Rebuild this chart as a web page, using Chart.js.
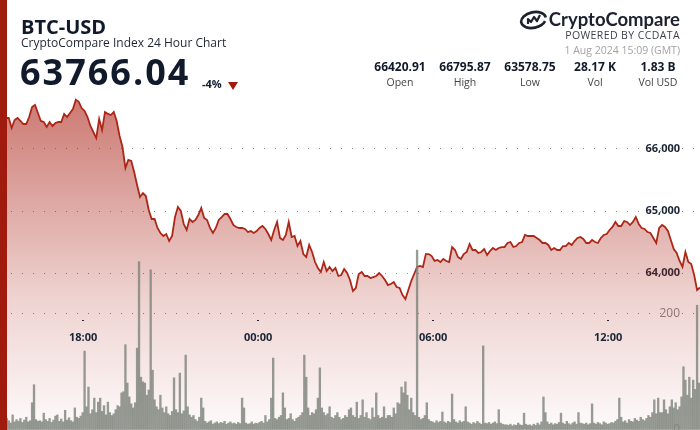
<!DOCTYPE html>
<html>
<head>
<meta charset="utf-8">
<script src="https://cdn.jsdelivr.net/npm/chart.js@4.4.1/dist/chart.umd.min.js"></script>
<style>
  html, body { margin: 0; padding: 0; background: #fff; }
  #wrap { position: relative; width: 700px; height: 430px; overflow: hidden; font-family: "Open Sans", sans-serif; color: #111a2b; }
  #wrap canvas { position: absolute; left: 0; top: 0; }
  .abs { position: absolute; line-height: 1; white-space: nowrap; }
  #redbar { position: absolute; left: 0; top: 0; width: 7px; height: 430px; background: #a11a0e; }
  .stat { position: absolute; width: 64px; text-align: center; line-height: 1; }
</style>
</head>
<body>
<div id="wrap">
  <canvas id="chart" width="700" height="430"></canvas>
  <div id="redbar"></div>
  <div class="abs" id="pair" style="left:21px;top:16.5px;font-size:20px;font-weight:700;"></div>
  <div class="abs" id="subtitle" style="left:21px;top:37px;font-size:12px;color:#1f2633;"></div>
  <div class="abs" id="last" style="left:20px;top:53.5px;font-size:36px;font-weight:700;letter-spacing:2px;"></div>
  <div class="abs" id="change" style="left:202px;top:78px;font-size:11px;font-weight:700;"></div>
  <div class="abs" style="left:228px;top:82px;width:0;height:0;border-left:5.5px solid transparent;border-right:5.5px solid transparent;border-top:8px solid #a11a0e;"></div>

  <svg class="abs" style="left:519px;top:10px;" width="30" height="20" viewBox="0 0 30 20">
    <ellipse cx="14.5" cy="10" rx="12.5" ry="7.8" transform="rotate(-12 14.5 10)" fill="none" stroke="#1c2130" stroke-width="2.6" stroke-dasharray="62 10" stroke-dashoffset="-4"/>
    <path d="M9 14 L9 9 L12 12 L15 7 L18 11 L21 5" fill="none" stroke="#1c2130" stroke-width="2.2" stroke-linejoin="round"/>
  </svg>
  <div class="abs" id="brand" style="right:20px;top:10.3px;font-family:Lato, sans-serif;font-size:18.5px;font-weight:700;color:#1c2130;"></div>
  <div class="abs" id="powered" style="right:20px;top:29.7px;font-size:10.5px;font-weight:500;letter-spacing:0.4px;color:#3a3f4a;"></div>
  <div class="abs" id="stamp" style="right:20px;top:45.2px;font-size:10.5px;color:#a3a3a3;"></div>
</div>
<script>
// header values
const pairName = "BTC-USD";
const subtitleText = "CryptoCompare Index 24 Hour Chart";
const lastPrice = "63766.04";
const changeText = "-4%";
const stampText = "1 Aug 2024 15:09 (GMT)";
const statValues = ["66420.91", "66795.87", "63578.75", "28.17 K", "1.83 B"];
const statLabels = ["Open", "High", "Low", "Vol", "Vol USD"];

// time axis: minutes since 31 Jul 15:09
const timeLabels = ["18:00", "00:00", "06:00", "12:00"];
const timeTicks = [171, 531, 891, 1251];
const priceTicks = [64000, 65000, 66000];
const volumeTicks = [0, 200];

// price every 6 minutes
const priceValues = [
  66421,66480,66500,66500,66339,66468,66500,66452,66403,66403,
  66516,66677,66710,66581,66452,66435,66355,66435,66371,66419,
  66435,66435,66565,66516,66581,66645,66796,66760,66661,66613,
  66516,66371,66274,66177,66484,66306,66597,66565,66548,66597,
  66452,66210,66032,65694,65823,65806,65629,65419,65226,65290,
  65242,65016,64871,64871,64726,64645,64597,64629,64516,64597,
  64903,65065,65000,64790,64694,64871,64823,64855,64935,65048,
  64887,64855,64726,64645,64726,64855,64903,64952,64952,64871,
  64774,64742,64726,64726,64710,64661,64677,64645,64677,64726,
  64758,64710,64629,64532,64694,64823,64565,64532,64613,64823,
  64581,64597,64435,64516,64306,64258,64452,64339,64177,64081,
  64016,64177,64032,64097,64032,64081,63952,63968,64065,64000,
  63887,63710,63758,63984,64016,63952,63952,63919,63935,63952,
  64000,63952,63887,63806,63823,63855,63774,63758,63645,63579,
  63726,63871,63984,64097,64113,64097,64306,64306,64274,64194,
  64210,64177,64226,64194,64177,64419,64371,64258,64226,64306,
  64339,64468,64371,64371,64323,64339,64387,64290,64355,64403,
  64371,64403,64419,64419,64484,64500,64419,64435,64484,64500,
  64613,64597,64597,64597,64565,64532,64484,64484,64452,64371,
  64403,64371,64371,64435,64435,64484,64452,64516,64565,64581,
  64548,64484,64484,64532,64500,64484,64565,64613,64629,64694,
  64742,64823,64758,64758,64839,64823,64774,64823,64903,64790,
  64726,64710,64661,64645,64565,64484,64726,64774,64742,64677,
  64532,64387,64323,64194,64097,64339,64177,64145,63968,63726,
  63766
];

// volume every 4 minutes
const volumeValues = [
  15,18,14,20,16,12,26,14,18,15,20,13,17,22,14,16,47,78,18,15,
  16,14,29,18,15,20,13,17,24,26,15,19,14,34,17,21,16,14,38,22,
  20,24,30,136,40,74,28,35,55,30,48,55,32,42,26,48,30,25,28,35,
  42,40,64,66,147,81,57,45,38,47,141,290,91,83,81,60,69,276,103,52,
  40,35,60,38,30,40,28,25,32,90,35,30,98,28,33,129,40,26,22,25,
  18,15,22,55,38,15,12,14,16,10,12,14,11,13,12,15,10,12,14,11,
  12,10,13,11,55,38,12,10,11,14,10,12,11,13,15,12,25,14,18,55,
  124,20,18,22,25,64,38,18,20,28,18,15,20,22,25,30,129,91,38,25,
  30,28,35,55,107,38,30,25,28,40,22,20,25,30,22,18,20,25,22,35,
  38,25,22,48,20,25,52,22,30,20,18,38,22,64,25,20,22,40,20,25,
  25,22,38,28,47,45,74,64,83,60,35,55,30,25,310,22,18,20,25,47,
  18,15,14,12,16,13,15,31,14,12,15,13,62,18,14,12,16,13,15,40,
  14,12,10,13,11,15,12,10,145,12,11,13,10,12,14,11,35,12,10,9,
  9,8,10,7,9,8,12,9,8,29,10,8,9,7,10,8,12,9,14,57,
  30,14,10,12,9,11,10,13,29,12,10,15,11,9,12,14,10,30,12,11,
  10,12,9,11,45,12,10,13,11,9,14,12,10,11,13,12,15,18,55,22,
  14,16,12,18,15,14,20,17,15,22,18,16,20,25,22,30,52,28,55,30,
  30,52,35,28,40,52,38,47,35,40,57,109,86,60,91,55,86,70,215,81
];

// header text
document.getElementById('pair').textContent = pairName;
document.getElementById('subtitle').textContent = subtitleText;
document.getElementById('last').textContent = lastPrice;
document.getElementById('change').textContent = changeText;
document.getElementById('brand').textContent = "CryptoCompare";
document.getElementById('powered').textContent = "POWERED BY CCDATA";
document.getElementById('stamp').textContent = stampText;
const statCenters = [400, 465, 530, 595, 658];
const wrap = document.getElementById('wrap');
statValues.forEach((v, i) => {
  let a = document.createElement('div');
  a.className = 'stat';
  a.style.left = (statCenters[i] - 32) + 'px';
  a.style.top = '60.8px';
  a.style.fontSize = '12px';
  a.style.fontWeight = '700';
  a.textContent = v;
  wrap.appendChild(a);
  let b = document.createElement('div');
  b.className = 'stat';
  b.style.left = (statCenters[i] - 32) + 'px';
  b.style.top = '76.7px';
  b.style.fontSize = '10.5px';
  b.style.color = '#444';
  b.textContent = statLabels[i];
  wrap.appendChild(b);
});

// x labels sit inside the plot, under the 200 volume line
const xLabels = {
  id: 'xLabels',
  afterDraw(chart) {
    const ctx = chart.ctx;
    const x = chart.scales.x;
    ctx.save();
    ctx.font = 'bold 11px "Open Sans"';
    ctx.fillStyle = '#1b2535';
    ctx.textAlign = 'center';
    ctx.textBaseline = 'middle';
    timeTicks.forEach((m, i) => {
      const px = x.getPixelForValue(m);
      ctx.fillRect(Math.round(px) - 1, 320, 2, 1);
      ctx.fillText(timeLabels[i], px, 337.5);
    });
    ctx.restore();
  }
};

// axes take no room, everything is drawn over the plot
const noSpace = (s) => {
  if (s.isHorizontal()) s.height = 0; else s.width = 0;
};

let ctx = document.getElementById('chart').getContext('2d');
let chart = new Chart(ctx, {
  data: {
    datasets: [{
      type: 'bar',
      label: 'Volume',
      data: volumeValues.map((v, i) => ({ x: i * 4 + 2, y: v })),
      yAxisID: 'y1',
      backgroundColor: 'rgba(125,131,123,0.8)',
      barThickness: 1.7,
      order: 0
    }, {
      type: 'line',
      label: 'Price',
      data: priceValues.map((v, i) => ({ x: i * 6, y: v })),
      yAxisID: 'y',
      borderColor: '#ad2718',
      borderWidth: 1.8,
      pointRadius: 0,
      tension: 0,
      fill: 'start',
      backgroundColor: (c) => {
        const area = c.chart.chartArea;
        if (!area) return 'rgba(170,30,20,0.3)';
        const g = c.chart.ctx.createLinearGradient(0, 98, 0, area.bottom);
        g.addColorStop(0, 'rgba(170,32,20,0.6)');
        g.addColorStop(0.6, 'rgba(170,32,20,0.2)');
        g.addColorStop(1, 'rgba(170,32,20,0.02)');
        return g;
      },
      order: 1
    }]
  },
  options: {
    responsive: false,
    animation: false,
    layout: { padding: 0, autoPadding: false },
    plugins: { legend: false, tooltip: { enabled: false } },
    scales: {
      x: { type: 'linear', min: 0, max: 1440, offset: false, display: false, afterFit: noSpace },
      y: {
        position: 'right',
        min: 61468,
        max: 68403,
        afterFit: noSpace,
        afterBuildTicks: (s) => { s.ticks = priceTicks.map(v => ({ value: v })); },
        ticks: {
          mirror: true,
          padding: -20,
          color: '#1b2535',
          font: { family: 'Open Sans', size: 11, weight: 'bold' },
          callback: (v) => v.toLocaleString('en-US')
        },
        grid: { color: '#8c8c8c', drawTicks: false, lineWidth: 1 },
        border: { display: false, dash: [1, 10] }
      },
      y1: {
        position: 'right',
        min: 0,
        max: 741,
        afterFit: noSpace,
        afterBuildTicks: (s) => { s.ticks = volumeTicks.map(v => ({ value: v })); },
        ticks: {
          mirror: true,
          padding: -20,
          color: '#8a8a8a',
          font: { family: 'Open Sans', size: 12 }
        },
        grid: {
          color: (c) => (c.tick && c.tick.value === 0) ? 'rgba(0,0,0,0)' : '#8c8c8c',
          drawTicks: false,
          lineWidth: 1
        },
        border: { display: false, dash: [1, 10] }
      }
    }
  },
  plugins: [xLabels]
});
</script>
</body>
</html>
